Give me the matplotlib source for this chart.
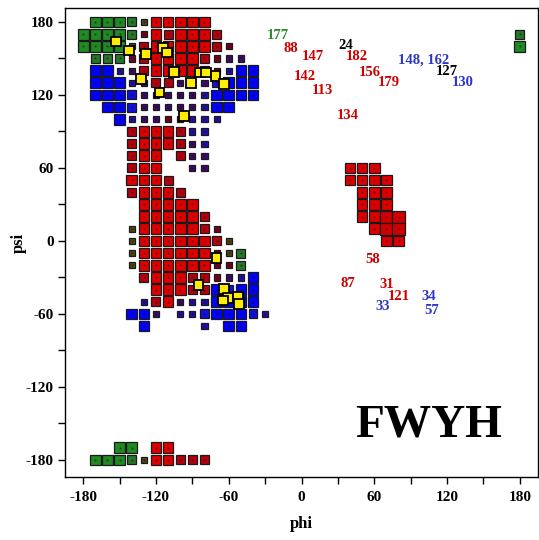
import matplotlib
matplotlib.use("Agg")
import matplotlib.pyplot as plt
import matplotlib.patches as patches
from matplotlib.ticker import MultipleLocator

plt.rcParams['font.family'] = ['Liberation Serif', 'DejaVu Serif']
plt.rcParams['font.weight'] = 'bold'
plt.rcParams['axes.unicode_minus'] = False

# cell codes: G/g/o green-ish, R/r/d red-ish, B/b/p/q blue-ish, X large red
left_phi = [-180, -170, -160, -150, -140, -130, -120, -110,
            -100, -90, -80, -70, -60, -50, -40, -30]
left_psi = [180, 170, 160, 150, 140, 130, 120, 110, 100, 90, 80, 70, 60,
            50, 40, 30, 20, 10, 0, -10, -20, -30, -40, -50, -60, -70,
            -170, -180]
left_rows = [
    ".GGGgoRRRRR.....",
    "GGGGgdRrRRRr....",
    "GGGGorRRRRRrd...",
    ".gggdrRRRRrdpp..",
    ".BBqprRRRRrdqBB.",
    ".BBBqprrp.pbBBB.",
    ".BBBbpppppqBBBB.",
    "..BBbpppppqBB...",
    "...Bqppddqqq....",
    "....rRRRrqq.....",
    "....rRRRrpq.....",
    "....rRR.rpp.....",
    "....rRR..pp.....",
    "....RRRr........",
    "....rRRRr.......",
    ".....RRRRR......",
    ".....RRRRRr.....",
    "....oRRRRRrd....",
    "....oRRRRRRro...",
    "....oRRRRRRdog..",
    "....oRRRRRRddg..",
    ".....rRRRrrdpqB.",
    "......RRRrrBbBB.",
    ".....qrRpqqBBBB.",
    "....BBp.qqbBBBbq",
    ".....B....q.BB..",
    "...GG.RR........",
    ".GGGgoRRrrr.....",
]

right_phi = [40, 50, 60, 70, 80]
right_psi = [60, 50, 40, 30, 20, 10, 0]
right_rows = [
    "RRR..",
    "RRRR.",
    ".RRR.",
    ".RRR.",
    ".RRXX",
    "..RXX",
    "...RR",
]

edge_phi = [180, 180]
edge_psi = [170, 160]
edge_code = ["g", "G"]

# highlighted (yellow) residues
yellow_phi = [-153, -142, -128, -114, -111, -105, -84, -79, -71, -64,
              -132.5, -91, -117, -97, -70, -85, -64, -60.5, -65, -52.5, -51.5]
yellow_psi = [164, 156.5, 153.5, 158.5, 155, 139, 138.5, 138.5, 135.5, 129,
              133, 130, 122, 102.5, -14, -36, -39.5, -47, -49, -46, -52]

label_text = ["177", "88", "147", "24", "182", "148, 162", "127", "130",
              "142", "113", "156", "179", "134", "58", "87", "31", "121",
              "33", "34", "57"]
label_phi = [-19.5, -9, 9.5, 36.5, 46, 101, 119.5, 133, 2.5, 17.5, 56,
             72, 38, 58.5, 38, 70, 80.5, 67, 104.5, 107.5]
label_psi = [168.5, 158.5, 152, 161, 152, 148.5, 139, 130, 135, 123.5, 138.5,
             130, 103.5, -15, -35, -36, -46, -54, -46, -57.5]
label_group = ["g", "r", "r", "k", "r", "b", "k", "b", "r", "r", "r", "r",
               "r", "r", "r", "r", "r", "b", "b", "b"]

cell_style = {
    'G': (8.8, '#1f8a24'), 'g': (7.4, '#24782a'), 'o': (5.0, '#4d4a12'),
    'R': (8.8, '#dc0000'), 'r': (7.4, '#b3000f'), 'd': (5.0, '#760022'),
    'B': (8.8, '#0000ff'), 'b': (7.4, '#1010e0'), 'p': (5.0, '#3d0a6e'),
    'q': (5.0, '#2010b0'), 'X': (10.0, '#d00000'),
}
label_colors = {'r': '#cc0000', 'b': '#2b35c8', 'k': 'black', 'g': '#2e8b2e'}

fig = plt.figure(figsize=(5.39, 5.40), dpi=100)
ax = fig.add_axes([0.1206, 0.1167, 0.8776, 0.8685])


def draw_cell(x, y, code):
    side, col = cell_style[code]
    ax.add_patch(patches.Rectangle((x - side / 2, y - side / 2), side, side,
                                   facecolor=col, edgecolor='#1a1a1a',
                                   linewidth=0.9, zorder=2))
    ax.plot(x, y, marker='s', markersize=1.3, color='#300000',
            markeredgewidth=0, alpha=0.6, zorder=3)


for psi, row in zip(left_psi, left_rows):
    for phi, c in zip(left_phi, row):
        if c != '.':
            draw_cell(phi, psi, c)

for psi, row in zip(right_psi, right_rows):
    for phi, c in zip(right_phi, row):
        if c != '.':
            draw_cell(phi, psi, c)

for phi, psi, c in zip(edge_phi, edge_psi, edge_code):
    draw_cell(phi, psi, c)

ys = 8.0
for phi, psi in zip(yellow_phi, yellow_psi):
    ax.add_patch(patches.Rectangle((phi - ys / 2, psi - ys / 2), ys, ys,
                                   facecolor='#ffec00', edgecolor='black',
                                   linewidth=1.3, zorder=4))

for t, phi, psi, g in zip(label_text, label_phi, label_psi, label_group):
    ax.text(phi, psi, t, color=label_colors[g], fontsize=10.5,
            fontweight='bold', ha='center', va='center', zorder=5)

ax.text(105, -152, 'FWYH', fontsize=34, fontweight='bold', ha='center',
        va='center', color='black')

ax.set_xlim(-195, 195)
ax.set_ylim(-194, 191.5)
ax.xaxis.set_major_locator(MultipleLocator(60))
ax.xaxis.set_minor_locator(MultipleLocator(30))
ax.yaxis.set_major_locator(MultipleLocator(60))
ax.yaxis.set_minor_locator(MultipleLocator(30))
ax.tick_params(which='both', direction='out', length=5, width=1)
ax.tick_params(axis='x', labelsize=11, pad=5)
ax.tick_params(axis='y', labelsize=11, pad=3)
for lab in ax.get_xticklabels() + ax.get_yticklabels():
    lab.set_fontweight('bold')
ax.set_xlabel('phi', fontsize=12, fontweight='bold', labelpad=9)
ax.set_ylabel('psi', fontsize=12, fontweight='bold', labelpad=-1)
for s in ax.spines.values():
    s.set_linewidth(1)

fig.savefig('out.png', dpi=100)
